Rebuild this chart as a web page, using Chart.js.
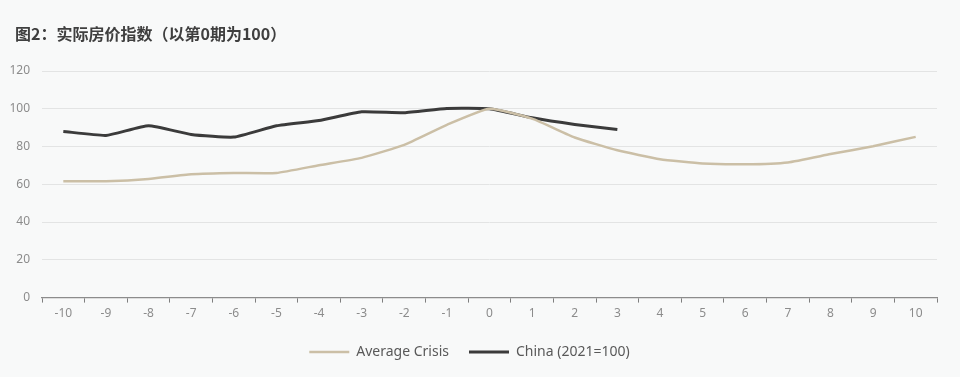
<!DOCTYPE html>
<html><head><meta charset="utf-8">
<script src="https://cdn.jsdelivr.net/npm/chart.js@4.4.1/dist/chart.umd.min.js"></script>
<style>
html,body{margin:0;padding:0;background:#f8f9f9;}
#wrap{position:relative;width:960px;height:377px;}
#title{position:absolute;left:15px;top:21px;font-family:'Noto Sans CJK SC',sans-serif;font-weight:bold;font-size:16px;color:#3f3f3f;line-height:24px;}
canvas{position:absolute;left:0;top:0;}
</style></head>
<body><div id="wrap"><canvas id="c" width="960" height="377"></canvas><div id="title"></div></div>
<script>
const categories = ["-10","-9","-8","-7","-6","-5","-4","-3","-2","-1","0","1","2","3","4","5","6","7","8","9","10"];
const averageCrisis = [61.6,61.6,62.8,65.3,66,66,70.1,74,80.9,91.5,100,94.8,84.8,78,73.3,71,70.6,71.6,76,80.2,85.1];
const china = [88,85.9,91,86.4,85,91,93.8,98.4,97.9,100.2,100,95.2,91.7,89,null,null,null,null,null,null,null];
const yTicks = [0,20,40,60,80,100,120];
const titleText = "图2：实际房价指数（以第0期为100）";
document.getElementById('title').textContent = titleText;

Chart.defaults.font.family = "'Noto Sans','Noto Sans CJK SC',sans-serif";
new Chart(document.getElementById('c'), {
  type: 'line',
  data: {
    labels: categories,
    datasets: [
      {label: 'Average Crisis', data: averageCrisis, borderColor: '#cbbfa6', backgroundColor: '#cbbfa6', borderWidth: 2.5, pointRadius: 0, tension: 0.15},
      {label: 'China (2021=100)', data: china, borderColor: '#3b3b3b', backgroundColor: '#3b3b3b', borderWidth: 3, pointRadius: 0, tension: 0.15, spanGaps: false}
    ]
  },
  options: {
    responsive: false, animation: false,
    layout: {padding: {left: 2, right: 23, top: 71, bottom: 8}},
    plugins: {
      legend: {position: 'bottom', labels: {usePointStyle: true, pointStyle: 'line', pointStyleWidth: 40, color: '#595959', font: {size: 14}, padding: 20, boxHeight: 14}},
      tooltip: {enabled: false}
    },
    scales: {
      x: {
        offset: true,
        grid: {offset: true, drawOnChartArea: false, drawTicks: true, tickLength: 5, color: '#7f7f7f'},
        border: {color: '#8c8c8c', width: 1.3},
        ticks: {color: '#8c8c8c', font: {size: 12}, padding: 4, maxRotation: 0, autoSkip: false}
      },
      y: {
        min: 0, max: 120,
        afterBuildTicks: (s) => { s.ticks = yTicks.map(v => ({value: v})); },
        afterFit: (s) => { s.width = 40; },
        grid: {color: '#e3e4e4', drawTicks: false, lineWidth: 1},
        border: {display: false},
        ticks: {color: '#8c8c8c', font: {size: 12}, padding: 12}
      }
    }
  }
});
</script></body></html>
